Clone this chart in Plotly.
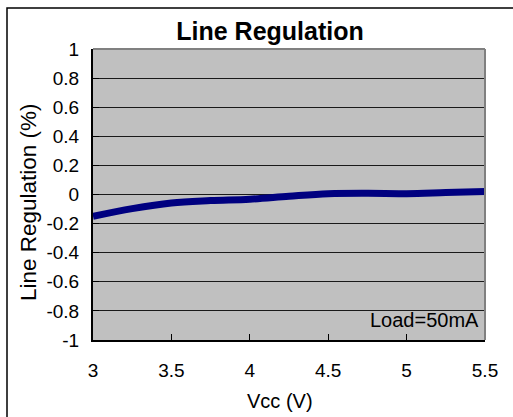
import plotly.graph_objects as go

vcc = [3.0, 3.25, 3.5, 3.75, 4.0, 4.25, 4.5, 4.75, 5.0, 5.25, 5.5]
line_reg = [-0.15, -0.097, -0.058, -0.042, -0.032, -0.012, 0.005, 0.008, 0.006, 0.013, 0.02]

x_ticks = [3, 3.5, 4, 4.5, 5, 5.5]
x_tick_labels = ["3", "3.5", "4", "4.5", "5", "5.5"]
y_ticks = [1, 0.8, 0.6, 0.4, 0.2, 0, -0.2, -0.4, -0.6, -0.8, -1]
y_tick_labels = ["1", "0.8", "0.6", "0.4", "0.2", "0", "-0.2", "-0.4", "-0.6", "-0.8", "-1"]

W, H = 513, 417
L, R, T, B = 93, 28, 49, 77
pw, ph = W - L - R, H - T - B

def px(x):
    return (x - L) / pw

def py(y):
    return (H - B - y) / ph

fig = go.Figure()
fig.add_trace(go.Scatter(
    x=vcc, y=line_reg, mode="lines",
    line=dict(color="#000080", width=7, shape="spline", smoothing=1.0),
    showlegend=False, hoverinfo="skip",
))

font = "Liberation Sans, Arial, sans-serif"

fig.update_layout(
    width=W, height=H,
    margin=dict(l=L, r=R, t=T, b=B, autoexpand=False),
    paper_bgcolor="white",
    plot_bgcolor="#C0C0C0",
    font=dict(family=font, color="black", size=19),
    title=dict(text="<b>Line Regulation</b>", x=px(270), xref="paper",
               y=1 - 31 / H, yref="container", xanchor="center", yanchor="middle",
               font=dict(size=25, family=font, color="black")),
    xaxis=dict(range=[3, 5.5], tickvals=x_ticks, ticktext=x_tick_labels,
               showgrid=False, zeroline=False, showline=True, linecolor="black",
               linewidth=2, ticks="inside", ticklen=6, tickcolor="black",
               tickfont=dict(size=19), ticklabelstandoff=12),
    yaxis=dict(range=[-1, 1], tickvals=y_ticks, ticktext=y_tick_labels,
               showgrid=True, gridcolor="#1a1a1a", gridwidth=1,
               zeroline=False, showline=True, linecolor="black",
               linewidth=2, ticks="inside", ticklen=6, tickcolor="black",
               tickfont=dict(size=19), ticklabelstandoff=8),
    shapes=[
        dict(type="line", xref="paper", yref="paper", x0=0, x1=1, y0=1, y1=1,
             line=dict(color="#808080", width=2), layer="above"),
        dict(type="line", xref="paper", yref="paper", x0=1, x1=1, y0=0, y1=1,
             line=dict(color="#808080", width=2), layer="above"),
        dict(type="rect", xref="paper", yref="paper", x0=px(7), x1=px(520),
             y0=py(430), y1=py(8), line=dict(color="black", width=1.5),
             fillcolor="rgba(0,0,0,0)", layer="above"),
    ],
    annotations=[
        dict(text="Load=50mA", xref="paper", yref="paper", x=px(481), y=py(320),
             xanchor="right", yanchor="middle", showarrow=False,
             font=dict(size=20, family=font, color="black")),
        dict(text="Vcc (V)", xref="paper", yref="paper", x=px(280), y=py(401),
             xanchor="center", yanchor="middle", showarrow=False,
             font=dict(size=20, family=font, color="black")),
        dict(text="Line Regulation (%)", xref="paper", yref="paper", x=px(28), y=py(202),
             xanchor="center", yanchor="middle", showarrow=False, textangle=-90,
             font=dict(size=22.5, family=font, color="black")),
    ],
)

fig.write_html("out.html", config={"displayModeBar": False},
               post_script="document.body.style.margin='0';")
